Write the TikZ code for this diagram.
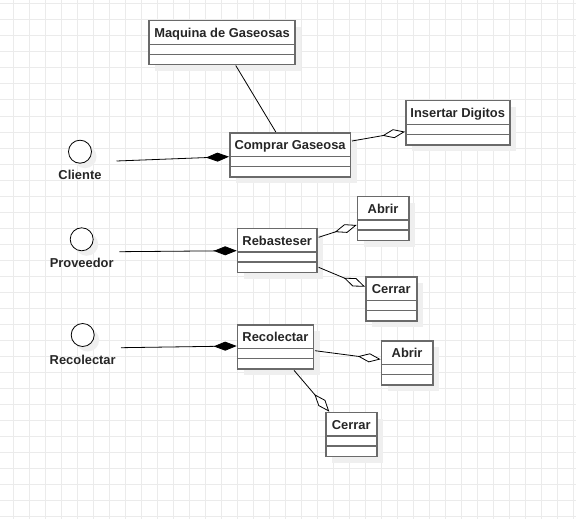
\documentclass[tikz,border=0pt]{standalone}
\usepackage{fontspec}
\setmainfont{Liberation Sans}
\usetikzlibrary{arrows.meta,calc}
\definecolor{gridc}{HTML}{EBEBEB}
\definecolor{shadowc}{HTML}{EFEFEF}
\definecolor{boxc}{HTML}{6A6A6A}
\definecolor{textc}{HTML}{262626}
\tikzset{
  umlbox/.style={draw=boxc, line width=1.5pt, fill=white, inner sep=0pt},
  umldiv/.style={draw=boxc, line width=1.5pt},
  umltext/.style={font=\bfseries\fontsize{12.9}{14}\selectfont, text=textc, inner sep=0pt, anchor=base},
  actorc/.style={draw=black, line width=0.8pt, fill=white, circle, minimum size=23pt, inner sep=0pt},
  actorshadow/.style={fill=shadowc, circle, minimum size=23pt, inner sep=0pt},
  conn/.style={draw=black, line width=0.8pt},
  compo/.style={conn, -{Diamond[length=23pt, width=9pt]}},
  aggr/.style={conn, -{Diamond[length=23pt, width=9pt, fill=white]}},
}
\newcommand\umlclass[5]{%
  \fill[shadowc] (#2+7,#3+7) rectangle ++(#4,44);
  \node[umlbox, minimum width=#4pt, minimum height=44pt, anchor=north west] (#1) at (#2,#3) {};
  \draw[umldiv] ($(#1.north west)+(0,24.5)$) -- ($(#1.north east)+(0,24.5)$);
  \draw[umldiv] ($(#1.north west)+(0,34.5)$) -- ($(#1.north east)+(0,34.5)$);
  \node[umltext] (#1-t) at ($(#1.north)+(0,17.5)$) {#5};
}
\newcommand\umlactor[5]{%
  \node[actorshadow] (#1-s) at (#2+5,#3+5) {};
  \node[actorc] (#1) at (#2,#3) {};
  \node[umltext] (#1-l) at (#2,#4) {#5};
}
\begin{document}
\begin{tikzpicture}[x=1pt, y=-1pt]
\useasboundingbox (0,0) rectangle (576,519);
\fill[white] (0,0) rectangle (576,519);
\foreach \i in {0,...,35} {
  \draw[gridc, line width=1pt] (13+16*\i,0) -- (13+16*\i,519);
}
\foreach \j in {0,...,32} {
  \draw[gridc, line width=1pt] (0,4+16*\j) -- (576,4+16*\j);
}

% classes
\umlclass{maq}{148.3}{20}{146}{Maquina de Gaseosas}
\umlclass{comp}{229}{132}{120.7}{Comprar Gaseosa}
\umlclass{ins}{405}{100}{104}{Insertar Digitos}
\umlclass{reb}{236.7}{227.7}{79.6}{Rebasteser}
\umlclass{abr1}{356.7}{195.7}{51.3}{Abrir}
\umlclass{cer1}{365}{276}{51}{Cerrar}
\umlclass{rec}{236.7}{324}{76}{Recolectar}
\umlclass{abr2}{380.7}{340}{51.3}{Abrir}
\umlclass{cer2}{325}{411.7}{51}{Cerrar}

% actors
\umlactor{cli}{80}{151.7}{179.5}{Cliente}
\umlactor{pro}{81.7}{239.3}{267.7}{Proveedor}
\umlactor{rca}{82.7}{335}{364}{Recolectar}

\coordinate (cliend) at (116.5,161);
\coordinate (proend) at (119.3,251.7);
\coordinate (rcaend) at (121,347.7);

% connectors
\draw[conn] ([xshift=13.7pt]maq.south) -- ([xshift=-14.3pt]comp.north);
\draw[compo] (cliend) -- ($(comp.north west)+(0,24.7)$);
\draw[compo] (proend) -- ($(reb.north west)+(0,23)$);
\draw[compo] (rcaend) -- ($(rec.north west)+(0,22)$);
\draw[aggr] ($(comp.north east)+(0.8,9)$) -- ($(ins.north west)+(0,31.7)$);
\draw[aggr] ($(reb.north east)+(0.8,9.6)$) -- ($(abr1.north west)+(0,29.3)$);
\draw[aggr] ($(reb.north east)+(0.8,39.6)$) -- ($(cer1.north west)+(0,10.7)$);
\draw[aggr] ($(rec.north east)+(0.8,26.7)$) -- ($(abr2.north west)+(0,19.3)$);
\draw[aggr] ($(rec.south west)+(57.3,0.8)$) -- ($(cer2.north west)+(4.3,0)$);
\end{tikzpicture}
\end{document}
